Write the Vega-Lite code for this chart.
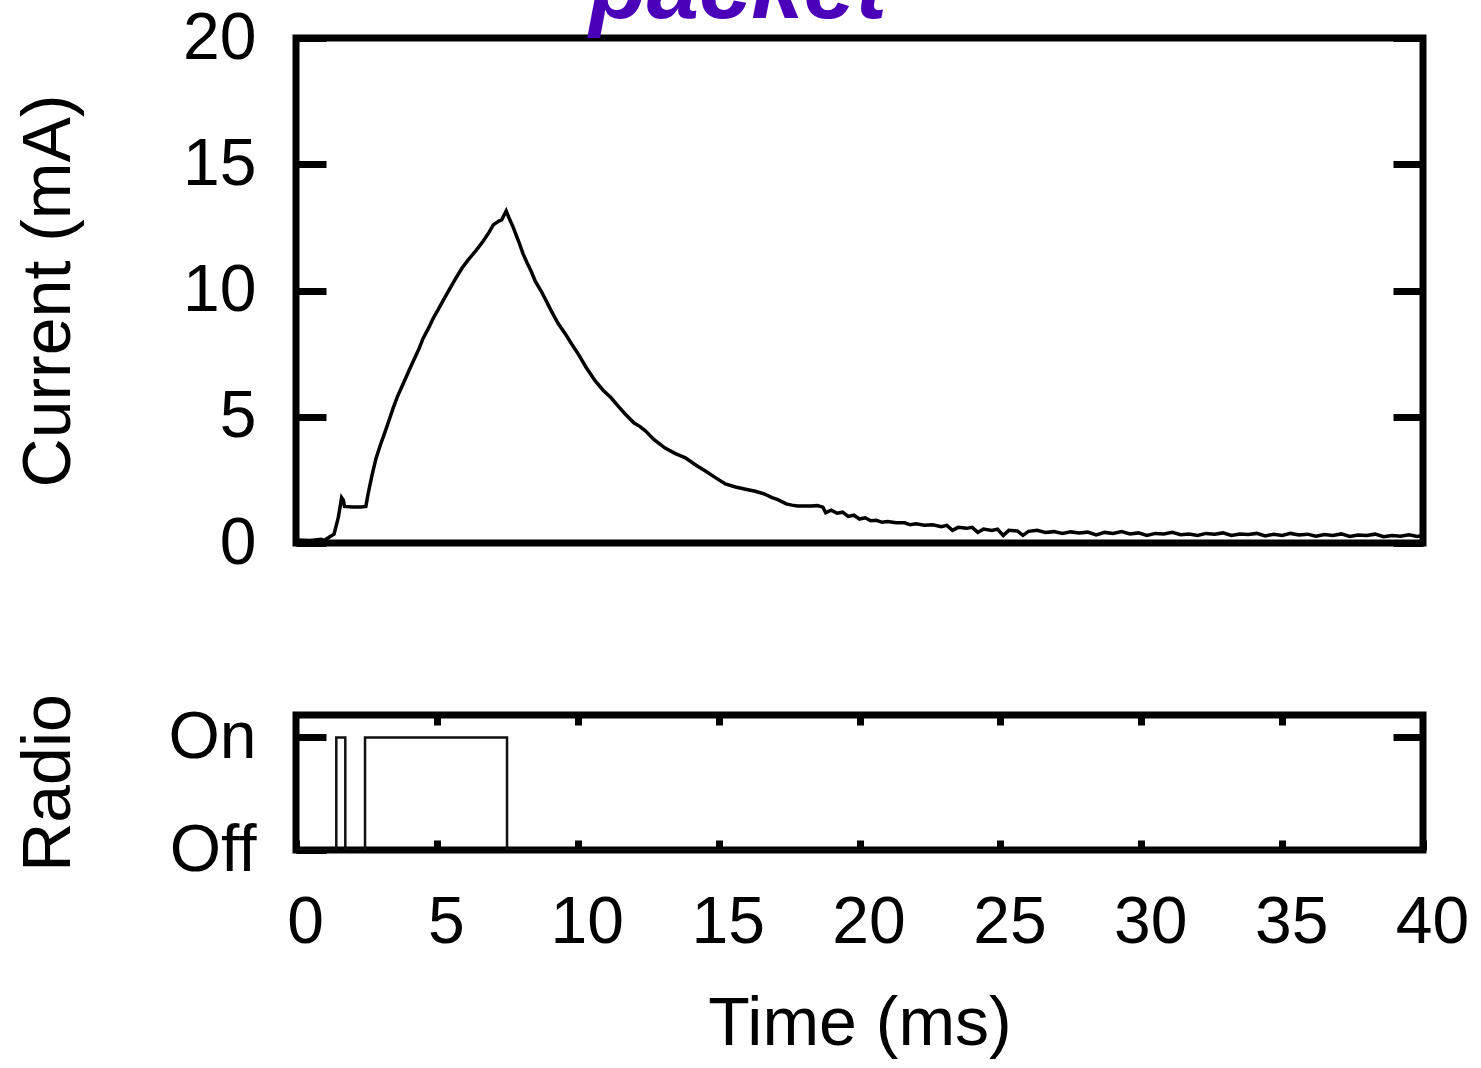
{
  "$schema": "https://vega.github.io/schema/vega-lite/v6.json",
  "background": "white",
  "padding": {"left": 12, "top": -58, "right": 0, "bottom": 0},
  "spacing": 110,
  "title": {"text": "packet", "fontSize": 94, "font": "Liberation Sans", "fontWeight": "bold", "fontStyle": "italic", "color": "#4a00b8", "anchor": "middle", "baseline": "alphabetic", "offset": -110, "dx": -4},
  "config": {
    "view": {"stroke": "black", "strokeWidth": 7},
    "axis": {"domain": false, "grid": false, "tickColor": "black", "tickWidth": 7, "labelColor": "black", "labelFont": "Liberation Sans", "labelFontSize": 66, "titleFont": "Liberation Sans", "titleFontSize": 68, "titleFontWeight": "normal", "titleColor": "black"}
  },
  "datasets": {
    "current": [
      {"t": 0, "I": 0.12}, {"t": 0.5, "I": 0.1}, {"t": 0.9, "I": 0.15}, {"t": 1.0, "I": 0.1}, {"t": 1.2, "I": 0.25}, {"t": 1.35, "I": 0.35}, {"t": 1.5, "I": 1.0}, {"t": 1.62, "I": 1.8}, {"t": 1.68, "I": 1.7}, {"t": 1.72, "I": 1.45}, {"t": 2.0, "I": 1.43}, {"t": 2.3, "I": 1.43}, {"t": 2.48, "I": 1.45}, {"t": 2.56, "I": 1.95}, {"t": 2.7, "I": 2.7}, {"t": 2.84, "I": 3.35}, {"t": 3.0, "I": 3.9}, {"t": 3.13, "I": 4.3}, {"t": 3.3, "I": 4.85}, {"t": 3.45, "I": 5.35}, {"t": 3.6, "I": 5.8}, {"t": 3.8, "I": 6.3}, {"t": 4.0, "I": 6.8}, {"t": 4.16, "I": 7.2}, {"t": 4.35, "I": 7.65}, {"t": 4.51, "I": 8.1}, {"t": 4.7, "I": 8.5}, {"t": 4.87, "I": 8.9}, {"t": 5.05, "I": 9.25}, {"t": 5.22, "I": 9.6}, {"t": 5.45, "I": 10.05}, {"t": 5.68, "I": 10.5}, {"t": 5.9, "I": 10.9}, {"t": 6.14, "I": 11.25}, {"t": 6.4, "I": 11.6}, {"t": 6.64, "I": 11.95}, {"t": 6.85, "I": 12.3}, {"t": 7.0, "I": 12.6}, {"t": 7.2, "I": 12.75}, {"t": 7.3, "I": 12.8}, {"t": 7.46, "I": 13.15},
      {"t": 7.55, "I": 12.9}, {"t": 7.71, "I": 12.5}, {"t": 7.9, "I": 11.95}, {"t": 8.06, "I": 11.45}, {"t": 8.2, "I": 11.1}, {"t": 8.35, "I": 10.75}, {"t": 8.5, "I": 10.35}, {"t": 8.7, "I": 9.98}, {"t": 8.9, "I": 9.55}, {"t": 9.06, "I": 9.19}, {"t": 9.3, "I": 8.7}, {"t": 9.56, "I": 8.28}, {"t": 9.8, "I": 7.85}, {"t": 10.02, "I": 7.48}, {"t": 10.3, "I": 6.95}, {"t": 10.62, "I": 6.42}, {"t": 10.9, "I": 6.05}, {"t": 11.19, "I": 5.74}, {"t": 11.45, "I": 5.4}, {"t": 11.69, "I": 5.1}, {"t": 12.0, "I": 4.75}, {"t": 12.2, "I": 4.62}, {"t": 12.4, "I": 4.44}, {"t": 12.7, "I": 4.1}, {"t": 13.1, "I": 3.76}, {"t": 13.45, "I": 3.55}, {"t": 13.82, "I": 3.37}, {"t": 14.2, "I": 3.08}, {"t": 14.53, "I": 2.85}, {"t": 14.9, "I": 2.58}, {"t": 15.24, "I": 2.34}, {"t": 15.6, "I": 2.22},
      {"t": 16.0, "I": 2.12}, {"t": 16.3, "I": 2.05}, {"t": 16.6, "I": 1.95}, {"t": 16.9, "I": 1.8}, {"t": 17.1, "I": 1.72}, {"t": 17.4, "I": 1.55}, {"t": 17.6, "I": 1.5}, {"t": 17.8, "I": 1.47}, {"t": 18.0, "I": 1.47}, {"t": 18.3, "I": 1.47}, {"t": 18.5, "I": 1.48}, {"t": 18.7, "I": 1.42}, {"t": 18.8, "I": 1.2}, {"t": 19.0, "I": 1.3}, {"t": 19.2, "I": 1.18}, {"t": 19.4, "I": 1.22}, {"t": 19.6, "I": 1.05}, {"t": 19.8, "I": 1.1}, {"t": 20.0, "I": 0.95}, {"t": 20.2, "I": 1.0}, {"t": 20.4, "I": 0.88}, {"t": 20.6, "I": 0.9}, {"t": 20.8, "I": 0.82}, {"t": 21.0, "I": 0.85}, {"t": 21.3, "I": 0.8}, {"t": 21.6, "I": 0.8}, {"t": 21.8, "I": 0.72}, {"t": 22.0, "I": 0.76}, {"t": 22.3, "I": 0.7}, {"t": 22.6, "I": 0.72}, {"t": 22.9, "I": 0.65}, {"t": 23.1, "I": 0.7}, {"t": 23.3, "I": 0.5}, {"t": 23.5, "I": 0.62}, {"t": 23.8, "I": 0.58}, {"t": 24.0, "I": 0.62}, {"t": 24.2, "I": 0.42}, {"t": 24.4, "I": 0.55}, {"t": 24.7, "I": 0.5}, {"t": 24.9, "I": 0.55}, {"t": 25.1, "I": 0.3}, {"t": 25.3, "I": 0.5}, {"t": 25.6, "I": 0.48}, {"t": 25.8, "I": 0.3}, {"t": 26.0, "I": 0.46}, {"t": 26.3, "I": 0.5}, {"t": 26.6, "I": 0.42}, {"t": 26.9, "I": 0.45}, {"t": 27.2, "I": 0.38}, {"t": 27.5, "I": 0.44}, {"t": 27.8, "I": 0.4}, {"t": 28.1, "I": 0.43}, {"t": 28.4, "I": 0.32}, {"t": 28.7, "I": 0.42}, {"t": 29.0, "I": 0.38}, {"t": 29.3, "I": 0.45}, {"t": 29.6, "I": 0.36}, {"t": 29.9, "I": 0.4}, {"t": 30.2, "I": 0.3}, {"t": 30.5, "I": 0.38}, {"t": 30.8, "I": 0.36}, {"t": 31.1, "I": 0.42}, {"t": 31.4, "I": 0.33}, {"t": 31.7, "I": 0.36}, {"t": 32.0, "I": 0.3}, {"t": 32.3, "I": 0.38}, {"t": 32.6, "I": 0.35}, {"t": 32.9, "I": 0.4}, {"t": 33.2, "I": 0.3}, {"t": 33.5, "I": 0.36}, {"t": 33.8, "I": 0.34}, {"t": 34.1, "I": 0.38}, {"t": 34.4, "I": 0.28}, {"t": 34.7, "I": 0.35}, {"t": 35.0, "I": 0.3}, {"t": 35.3, "I": 0.38}, {"t": 35.6, "I": 0.32}, {"t": 35.9, "I": 0.35}, {"t": 36.2, "I": 0.27}, {"t": 36.5, "I": 0.34}, {"t": 36.8, "I": 0.3}, {"t": 37.1, "I": 0.36}, {"t": 37.4, "I": 0.26}, {"t": 37.7, "I": 0.32}, {"t": 38.0, "I": 0.3}, {"t": 38.3, "I": 0.35}, {"t": 38.6, "I": 0.25}, {"t": 38.9, "I": 0.3}, {"t": 39.2, "I": 0.27}, {"t": 39.5, "I": 0.33}, {"t": 39.8, "I": 0.26}, {"t": 40.0, "I": 0.3}
    ],
    "radio": [
      {"i": 0, "t": 0, "state": 0}, {"i": 1, "t": 1.43, "state": 0}, {"i": 2, "t": 1.43, "state": 1}, {"i": 3, "t": 1.75, "state": 1}, {"i": 4, "t": 1.75, "state": 0}, {"i": 5, "t": 2.45, "state": 0}, {"i": 6, "t": 2.45, "state": 1}, {"i": 7, "t": 7.49, "state": 1}, {"i": 8, "t": 7.49, "state": 0}, {"i": 9, "t": 40, "state": 0}
    ]
  },
  "vconcat": [
    {
      "width": 1127,
      "height": 505,
      "data": {"name": "current"},
      "resolve": {"axis": {"y": "independent"}},
      "layer": [
        {
          "mark": {"type": "line", "color": "black", "strokeWidth": 3.5, "clip": true},
          "encoding": {
            "x": {"field": "t", "type": "quantitative", "scale": {"domain": [0, 40], "nice": false, "zero": false}, "axis": null},
            "y": {"field": "I", "type": "quantitative", "scale": {"domain": [0, 20], "nice": false}, "axis": {"orient": "left", "title": "Current (mA)", "values": [0, 5, 10, 15, 20], "tickSize": -30, "labelPadding": 70, "titlePadding": 99}}
          }
        },
        {
          "mark": {"type": "line", "strokeOpacity": 0},
          "encoding": {
            "x": {"field": "t", "type": "quantitative", "axis": null},
            "y": {"field": "I", "type": "quantitative", "axis": {"orient": "right", "title": null, "labels": false, "values": [0, 5, 10, 15, 20], "tickSize": -30}}
          }
        }
      ]
    },
    {
      "width": 1127,
      "height": 135,
      "data": {"name": "radio"},
      "resolve": {"axis": {"x": "independent", "y": "independent"}},
      "layer": [
        {
          "mark": {"type": "line", "color": "#111111", "strokeWidth": 2.5, "clip": true},
          "encoding": {
            "x": {"field": "t", "type": "quantitative", "scale": {"domain": [0, 40], "nice": false, "zero": false}, "axis": {"orient": "bottom", "title": "Time (ms)", "values": [0, 5, 10, 15, 20, 25, 30, 35, 40], "tickSize": -10, "labelPadding": 50, "labelFlush": false, "labelOffset": 9, "titlePadding": 35}},
            "y": {"field": "state", "type": "quantitative", "scale": {"domain": [0, 1.2], "nice": false}, "axis": {"orient": "left", "title": "Radio", "values": [0, 1], "labelExpr": "datum.value == 1 ? 'On' : 'Off'", "tickSize": -30, "labelPadding": 70, "titlePadding": 84}},
            "order": {"field": "i"}
          }
        },
        {
          "mark": {"type": "line", "strokeOpacity": 0},
          "encoding": {
            "x": {"field": "t", "type": "quantitative", "axis": {"orient": "top", "title": null, "labels": false, "values": [5, 10, 15, 20, 25, 30, 35], "tickSize": -10}},
            "y": {"field": "state", "type": "quantitative", "axis": {"orient": "right", "title": null, "labels": false, "values": [1], "tickSize": -30}},
            "order": {"field": "i"}
          }
        }
      ]
    }
  ]
}
